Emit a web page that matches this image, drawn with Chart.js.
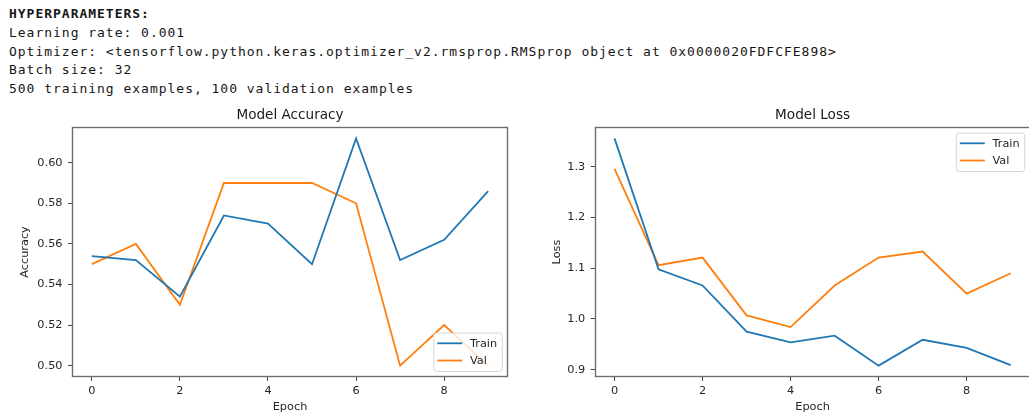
<!DOCTYPE html>
<html>
<head>
<meta charset="utf-8">
<script src="https://cdn.jsdelivr.net/npm/chart.js@4.4.1/dist/chart.umd.min.js"></script>
<style>
  html, body { margin: 0; padding: 0; background: #fff; }
  body { position: relative; width: 1029px; height: 412px; overflow: hidden; }
  #info {
    position: absolute; left: 9px; top: 5px;
    font-family: "DejaVu Sans Mono", monospace; font-size: 13px;
    letter-spacing: 0.98px; line-height: 18.75px; color: #161616; white-space: pre;
  }
  #info .head { font-weight: bold; }
  .panel { position: absolute; top: 100px; }
  #accPanel { left: 0; }
  #lossPanel { left: 520px; }
</style>
</head>
<body>
<div id="info"></div>
<canvas id="accPanel" class="panel" width="520" height="320"></canvas>
<canvas id="lossPanel" class="panel" width="520" height="320"></canvas>
<script>
// Run summary printed above the plots
const infoLines = [
  'HYPERPARAMETERS:',
  'Learning rate: 0.001',
  'Optimizer: <tensorflow.python.keras.optimizer_v2.rmsprop.RMSprop object at 0x0000020FDFCFE898>',
  'Batch size: 32',
  '500 training examples, 100 validation examples'
];

// Training history, one value per epoch
const epochs = [0, 1, 2, 3, 4, 5, 6, 7, 8, 9];
const trainAccuracy = [0.554, 0.552, 0.534, 0.574, 0.570, 0.550, 0.612, 0.552, 0.562, 0.586];
const valAccuracy   = [0.55, 0.56, 0.53, 0.59, 0.59, 0.59, 0.58, 0.50, 0.52, 0.50];
const trainLoss = [1.356, 1.098, 1.066, 0.975, 0.954, 0.967, 0.908, 0.959, 0.943, 0.909];
const valLoss   = [1.296, 1.106, 1.121, 1.007, 0.984, 1.066, 1.121, 1.133, 1.050, 1.090];

// Tick labels
const epochTicks = [0, 2, 4, 6, 8];
const accuracyTicks = [0.50, 0.52, 0.54, 0.56, 0.58, 0.60];
const lossTicks = [0.9, 1.0, 1.1, 1.2, 1.3];

const seriesNames = ['Train', 'Val'];
const seriesColors = ['#1f77b4', '#ff7f0e'];

// header text
const info = document.getElementById('info');
infoLines.forEach((t, i) => {
  const d = document.createElement('div');
  if (i === 0) d.className = 'head';
  d.textContent = t;
  info.appendChild(d);
});

Chart.defaults.font.family = '"DejaVu Sans", sans-serif';
Chart.defaults.color = '#262626';

const FONT = 11.3;

// matplotlib-like 5% data margins
function paddedRange(values, frac) {
  const lo = Math.min(...values), hi = Math.max(...values);
  const m = (hi - lo) * frac;
  return { min: lo - m, max: hi + m };
}

// axes frame on all four sides
const framePlugin = {
  id: 'frame',
  afterDatasetsDraw(chart) {
    const { ctx, chartArea: a } = chart;
    ctx.save();
    ctx.strokeStyle = '#6e6e6e';
    ctx.lineWidth = 1.4;
    const l = Math.round(a.left) + 0.5, t = Math.round(a.top) + 0.5;
    const r = Math.round(a.right) - 0.5, b = Math.round(a.bottom) - 0.5;
    ctx.strokeRect(l, t, r - l, b - t);
    ctx.restore();
  }
};

// title centred over the axes
const panelTitlePlugin = {
  id: 'panelTitle',
  afterDraw(chart, args, opts) {
    const { ctx, chartArea: a } = chart;
    ctx.save();
    ctx.font = '13.6px "DejaVu Sans"';
    ctx.fillStyle = '#1a1a1a';
    ctx.textAlign = 'center';
    ctx.textBaseline = 'middle';
    ctx.fillText(opts.text, (a.left + a.right) / 2, opts.y);
    ctx.restore();
  }
};

// framed legend placed inside the axes
const boxLegendPlugin = {
  id: 'boxLegend',
  afterDraw(chart, args, opts) {
    const { ctx, chartArea: a } = chart;
    const sets = chart.data.datasets;
    ctx.save();
    ctx.font = FONT + 'px "DejaVu Sans"';
    const tw = Math.max(...sets.map(d => ctx.measureText(d.label).width));
    const handle = 25, pad = 3.5, gap = 7.7;
    const w = pad + handle + gap + tw + 5.2;
    const h = 38.5;
    const x = a.right - 5.7 - w;
    const y = opts.corner === 'lowerRight' ? a.bottom - 5.5 - h : a.top + 6;
    const r = 3;
    ctx.beginPath();
    ctx.moveTo(x + r, y);
    ctx.arcTo(x + w, y, x + w, y + h, r);
    ctx.arcTo(x + w, y + h, x, y + h, r);
    ctx.arcTo(x, y + h, x, y, r);
    ctx.arcTo(x, y, x + w, y, r);
    ctx.closePath();
    ctx.fillStyle = 'rgba(255,255,255,0.8)';
    ctx.fill();
    ctx.strokeStyle = '#d6d6d6';
    ctx.lineWidth = 1;
    ctx.stroke();
    sets.forEach((d, i) => {
      const cy = y + 10.3 + i * 17.2;
      ctx.beginPath();
      ctx.moveTo(x + pad, cy);
      ctx.lineTo(x + pad + handle, cy);
      ctx.strokeStyle = d.borderColor;
      ctx.lineWidth = 1.8;
      ctx.stroke();
      ctx.fillStyle = '#262626';
      ctx.textAlign = 'left';
      ctx.textBaseline = 'middle';
      ctx.fillText(d.label, x + pad + handle + gap, cy + 0.5);
    });
    ctx.restore();
  }
};

function toPoints(values) {
  return values.map((v, i) => ({ x: epochs[i], y: v }));
}

function makePanel(id, cfg) {
  const yr = paddedRange(cfg.series.flat(), 0.05);
  const xr = paddedRange(epochs, 0.05);
  return new Chart(document.getElementById(id), {
    type: 'line',
    data: {
      datasets: cfg.series.map((s, i) => ({
        label: seriesNames[i],
        data: toPoints(s),
        borderColor: seriesColors[i],
        backgroundColor: seriesColors[i],
        borderWidth: 1.8,
        pointRadius: 0,
        pointHoverRadius: 0,
        tension: 0,
        fill: false
      }))
    },
    options: {
      responsive: false,
      animation: false,
      devicePixelRatio: 1,
      events: [],
      layout: { padding: { left: 0, top: 27, right: cfg.padRight, bottom: 0 } },
      plugins: {
        legend: { display: false },
        tooltip: { enabled: false },
        panelTitle: { text: cfg.title, y: 15.7 },
        boxLegend: { corner: cfg.legendCorner }
      },
      scales: {
        x: {
          type: 'linear',
          min: xr.min, max: xr.max,
          afterBuildTicks: s => { s.ticks = epochTicks.map(v => ({ value: v })); },
          afterFit: s => { s.height = 43; },
          grid: { display: true, drawOnChartArea: false, drawTicks: true, tickLength: 4, color: '#444', lineWidth: 1 },
          border: { display: false },
          ticks: { padding: 3.5, color: '#262626', font: { size: FONT }, maxRotation: 0, callback: v => String(v) },
          title: { display: true, text: 'Epoch', color: '#262626', font: { size: FONT }, padding: { top: 0, bottom: 6.5 } }
        },
        y: {
          type: 'linear',
          min: yr.min, max: yr.max,
          afterBuildTicks: s => { s.ticks = cfg.ticks.map(v => ({ value: v })); },
          afterFit: s => { s.width = cfg.axisWidth; },
          grid: { display: true, drawOnChartArea: false, drawTicks: true, tickLength: 4, color: '#444', lineWidth: 1 },
          border: { display: false },
          ticks: { padding: 5.5, color: '#262626', font: { size: FONT }, callback: v => v.toFixed(cfg.decimals) },
          title: { display: true, text: cfg.yLabel, color: '#262626', font: { size: FONT }, padding: { top: cfg.yTitlePad, bottom: 0 } }
        }
      }
    },
    plugins: [framePlugin, panelTitlePlugin, boxLegendPlugin]
  });
}

makePanel('accPanel', {
  title: 'Model Accuracy', yLabel: 'Accuracy',
  series: [trainAccuracy, valAccuracy], ticks: accuracyTicks, decimals: 2,
  axisWidth: 72, padRight: 12, yTitlePad: 18.2, legendCorner: 'lowerRight'
});

makePanel('lossPanel', {
  title: 'Model Loss', yLabel: 'Loss',
  series: [trainLoss, valLoss], ticks: lossTicks, decimals: 1,
  axisWidth: 74.7, padRight: 9.5, yTitlePad: 29.9, legendCorner: 'upperRight'
});
</script>
</body>
</html>
